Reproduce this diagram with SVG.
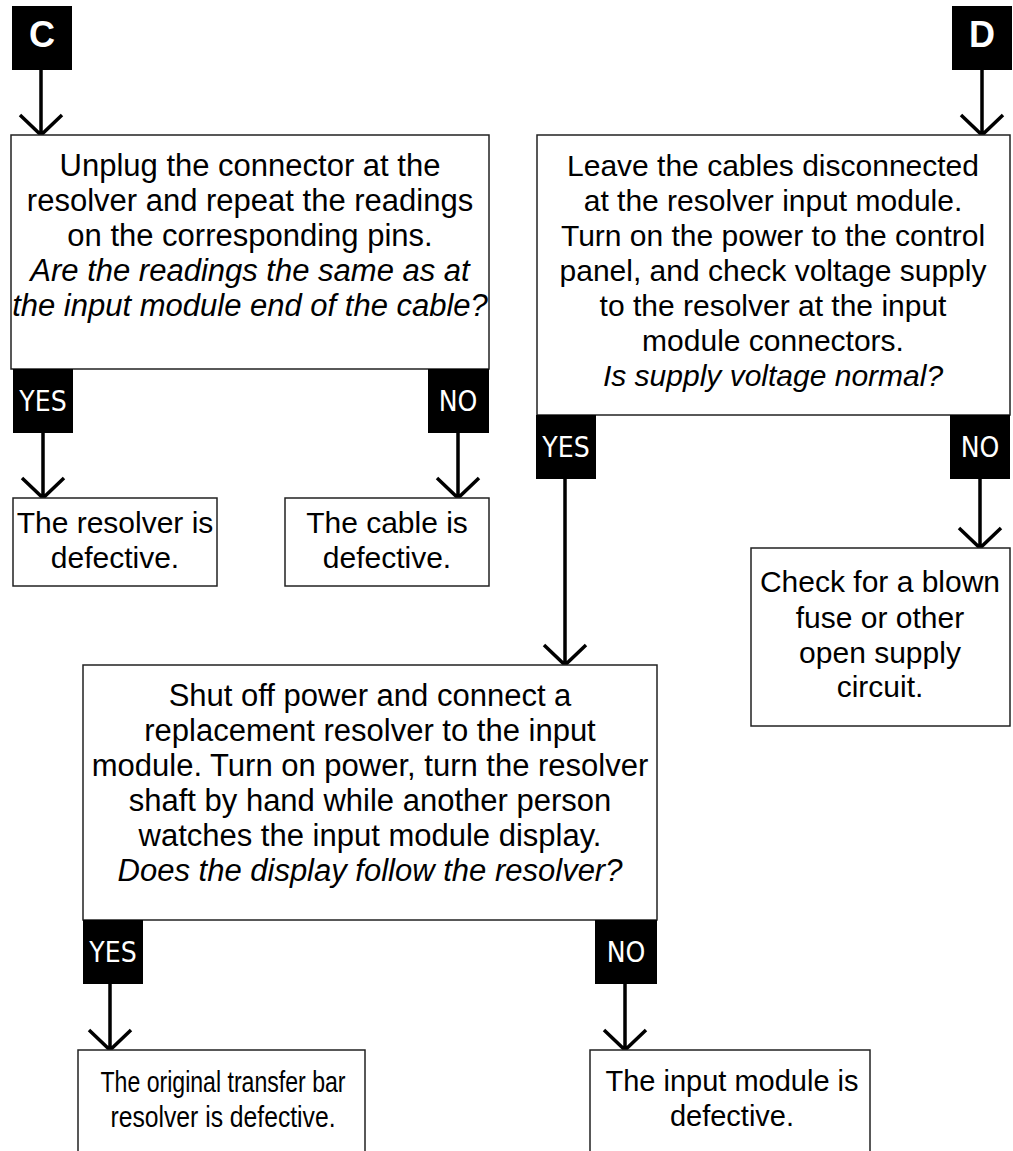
<svg xmlns="http://www.w3.org/2000/svg" width="1013" height="1151" viewBox="0 0 1013 1151">
<style>
.box{fill:#fff;stroke:#222;stroke-width:1.5}
.lab{fill:#000}
.t{font-family:"Liberation Sans",Arial,sans-serif;font-size:30px;fill:#000;text-anchor:middle}
.i{font-style:italic}
.s31{font-size:31px}
.lt{font-family:"Liberation Sans Narrow","DejaVu Sans Condensed",sans-serif;font-size:28px;fill:#fff;text-anchor:middle}
.cd{font-family:"Liberation Sans",Arial,sans-serif;font-weight:bold;font-size:36px;fill:#fff;text-anchor:middle}
.ln{stroke:#000;stroke-width:3.5;fill:none}
</style>
<rect width="1013" height="1151" fill="#fff"/>
<g id="connectors">
<path class="ln" d="M41 70V135M20 115L41 135L62 115"/>
<path class="ln" d="M982 70V135M961 115L982 135L1003 115"/>
<path class="ln" d="M43 433V498M22 478L43 498L64 478"/>
<path class="ln" d="M458 433V498M437 478L458 498L479 478"/>
<path class="ln" d="M565 479V665M544 645L565 665L586 645"/>
<path class="ln" d="M980 479V548M959 528L980 548L1001 528"/>
<path class="ln" d="M110 984V1050M89 1030L110 1050L131 1030"/>
<path class="ln" d="M625 984V1050M604 1030L625 1050L646 1030"/>
</g>
<g id="C"><rect class="lab" x="12" y="6" width="60" height="64"/><text class="cd" x="42" y="47">C</text></g>
<g id="D"><rect class="lab" x="952" y="6" width="60" height="64"/><text class="cd" x="982" y="47">D</text></g>
<g id="q1">
<rect class="box" x="11" y="135" width="478" height="234"/>
<text class="t s31" x="250" y="176">Unplug the connector at the</text>
<text class="t s31" x="250" y="211">resolver and repeat the readings</text>
<text class="t s31" x="250" y="246">on the corresponding pins.</text>
<text class="t s31 i" x="250" y="281">Are the readings the same as at</text>
<text class="t s31 i" x="250" y="316">the input module end of the cable?</text>
</g>
<g id="yes1"><rect class="lab" x="13" y="369" width="60" height="64"/><text class="lt" x="43" y="411">YES</text></g>
<g id="no1"><rect class="lab" x="428" y="369" width="61" height="64"/><text class="lt" x="458" y="411">NO</text></g>
<g id="r1">
<rect class="box" x="13" y="498" width="204" height="88"/>
<text class="t" x="115" y="533">The resolver is</text>
<text class="t" x="115" y="568">defective.</text>
</g>
<g id="r2">
<rect class="box" x="285" y="498" width="204" height="88"/>
<text class="t" x="387" y="533">The cable is</text>
<text class="t" x="387" y="568">defective.</text>
</g>
<g id="q2">
<rect class="box" x="537" y="135" width="473" height="280"/>
<text class="t" x="773" y="176">Leave the cables disconnected</text>
<text class="t" x="773" y="211">at the resolver input module.</text>
<text class="t" x="773" y="246">Turn on the power to the control</text>
<text class="t" x="773" y="281">panel, and check voltage supply</text>
<text class="t" x="773" y="316">to the resolver at the input</text>
<text class="t" x="773" y="351">module connectors.</text>
<text class="t i" x="773" y="386">Is supply voltage normal?</text>
</g>
<g id="yes2"><rect class="lab" x="536" y="415" width="60" height="64"/><text class="lt" x="566" y="457">YES</text></g>
<g id="no2"><rect class="lab" x="950" y="415" width="60" height="64"/><text class="lt" x="980" y="457">NO</text></g>
<g id="r3">
<rect class="box" x="751" y="548" width="259" height="178"/>
<text class="t" x="880" y="592">Check for a blown</text>
<text class="t" x="880" y="628">fuse or other</text>
<text class="t" x="880" y="663">open supply</text>
<text class="t" x="880" y="697">circuit.</text>
</g>
<g id="q3">
<rect class="box" x="83" y="665" width="574" height="255"/>
<text class="t s31" x="370" y="706">Shut off power and connect a</text>
<text class="t s31" x="370" y="741">replacement resolver to the input</text>
<text class="t s31" x="370" y="776">module. Turn on power, turn the resolver</text>
<text class="t s31" x="370" y="811">shaft by hand while another person</text>
<text class="t s31" x="370" y="846">watches the input module display.</text>
<text class="t s31 i" x="370" y="881">Does the display follow the resolver?</text>
</g>
<g id="yes3"><rect class="lab" x="83" y="920" width="60" height="64"/><text class="lt" x="113" y="962">YES</text></g>
<g id="no3"><rect class="lab" x="595" y="920" width="62" height="64"/><text class="lt" x="626" y="962">NO</text></g>
<g id="r4">
<rect class="box" x="78" y="1050" width="287" height="110"/>
<text class="t" x="223" y="1092" textLength="245" lengthAdjust="spacingAndGlyphs">The original transfer bar</text>
<text class="t" x="223" y="1127" textLength="225" lengthAdjust="spacingAndGlyphs">resolver is defective.</text>
</g>
<g id="r5">
<rect class="box" x="590" y="1050" width="280" height="110"/>
<text class="t" style="font-size:29px" x="732" y="1091">The input module is</text>
<text class="t" style="font-size:29px" x="732" y="1126">defective.</text>
</g>
</svg>
